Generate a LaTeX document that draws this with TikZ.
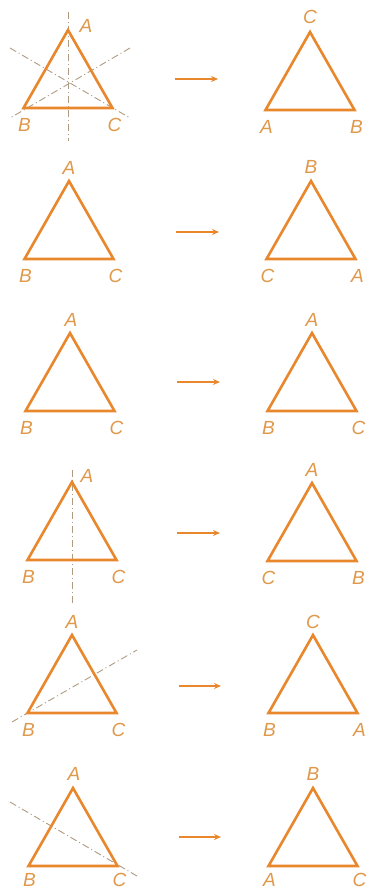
\documentclass[tikz,border=0pt]{standalone}
\usepackage{fontspec}
\setmainfont{Liberation Sans}
\usetikzlibrary{arrows.meta,calc}
\definecolor{org}{RGB}{232,135,44}
\definecolor{lbl}{RGB}{224,152,74}
\definecolor{axc}{RGB}{175,155,130}
\tikzset{
  tri/.style={draw=org,line width=2.6pt,line join=miter},
  lab/.style={text=lbl,font=\fontsize{19}{19}\selectfont\itshape,inner sep=0pt},
  axis/.style={draw=axc,line width=0.9pt,dash pattern=on 7pt off 3pt on 1pt off 3pt},
  mvarrow/.style={draw=org,line width=1.6pt,-{Stealth[length=7pt,width=6pt]}}
}
% #1 name, #2 apex x, #3 apex y
\newcommand\mytri[3]{%
  \coordinate (#1t) at (#2,#3);
  \coordinate (#1l) at (#2-44.5,#3+78);
  \coordinate (#1r) at (#2+44.5,#3+78);
  \draw[tri] (#1t) -- (#1r) -- (#1l) -- cycle;
}
\newcommand\mylabs[4]{% name, dy, left, right
  \node[lab] at ($(#1l)+(1,#2)$) {#3};
  \node[lab] at ($(#1r)+(2,#2)$) {#4};
}
\begin{document}
\begin{tikzpicture}[x=1pt,y=-1pt]
\useasboundingbox[fill=white] (0,0) rectangle (368,889);
% axes
\draw[axis] (68,12) -- (68,141);
\draw[axis] (10,48) -- (130,118);
\draw[axis] (130,48) -- (10,118);
\draw[axis] (72,470) -- (72,603);
\draw[axis] (12,722) -- (137,650);
\draw[axis] (10,802) -- (137,876);
% row 1
\mytri{a}{68}{30} \mytri{b}{310}{32}
\node[lab] at (86,26) {A}; \mylabs{a}{17}{B}{C}
\node[lab] at ($(bt)+(0,-15)$) {C}; \mylabs{b}{17}{A}{B}
\coordinate (s1) at (175,79); \coordinate (e1) at (218,79);
\draw[mvarrow] (s1) -- (e1);
% row 2
\mytri{c}{69}{181} \mytri{d}{311}{181}
\node[lab] at ($(ct)+(0,-13)$) {A}; \mylabs{c}{17}{B}{C}
\node[lab] at ($(dt)+(0,-14)$) {B}; \mylabs{d}{17}{C}{A}
\coordinate (s2) at (176,232); \coordinate (e2) at (219,232);
\draw[mvarrow] (s2) -- (e2);
% row 3
\mytri{e}{70}{333} \mytri{f}{312}{333}
\node[lab] at ($(et)+(1,-13)$) {A}; \mylabs{e}{17}{B}{C}
\node[lab] at ($(ft)+(0,-13)$) {A}; \mylabs{f}{17}{B}{C}
\coordinate (s3) at (177,382); \coordinate (e3) at (220,382);
\draw[mvarrow] (s3) -- (e3);
% row 4
\mytri{g}{72}{482} \mytri{h}{312}{483}
\node[lab] at (87,476) {A}; \mylabs{g}{17}{B}{C}
\node[lab] at ($(ht)+(0,-13)$) {A}; \mylabs{h}{17}{C}{B}
\coordinate (s4) at (177,533); \coordinate (e4) at (220,533);
\draw[mvarrow] (s4) -- (e4);
% row 5
\mytri{i}{72}{635} \mytri{j}{313}{635}
\node[lab] at ($(it)+(0,-13)$) {A}; \mylabs{i}{17}{B}{C}
\node[lab] at ($(jt)+(0,-13)$) {C}; \mylabs{j}{17}{B}{A}
\coordinate (s5) at (179,686); \coordinate (e5) at (221,686);
\draw[mvarrow] (s5) -- (e5);
% row 6
\mytri{k}{73}{788} \mytri{l}{313}{788}
\node[lab] at ($(kt)+(1,-14)$) {A}; \mylabs{k}{14}{B}{C}
\node[lab] at ($(lt)+(0,-14)$) {B}; \mylabs{l}{14}{A}{C}
\coordinate (s6) at (179,837); \coordinate (e6) at (221,837);
\draw[mvarrow] (s6) -- (e6);
\end{tikzpicture}
\end{document}
